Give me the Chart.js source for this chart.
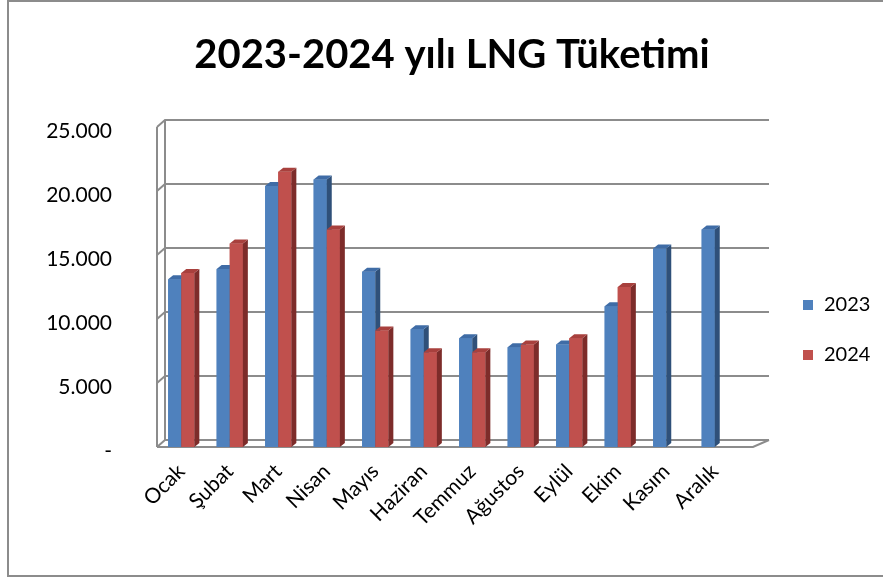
<!DOCTYPE html>
<html>
<head>
<meta charset="utf-8">
<script src="https://cdn.jsdelivr.net/npm/chart.js@4.4.1/dist/chart.umd.min.js"></script>
<style>
    html, body { margin: 0; padding: 0; overflow: hidden; background: #fff; }
    #frame {
        position: absolute; left: 7px; top: 0;
        width: 886px; height: 573px;
        border: 2px solid #8c8c8c;
    }
</style>
</head>
<body>
<div id="frame"><canvas id="chart" width="886" height="573"></canvas></div>
<script>
// Monthly LNG consumption
const chartTitle = '2023-2024 yılı LNG Tüketimi';
const months = ['Ocak', 'Şubat', 'Mart', 'Nisan', 'Mayıs', 'Haziran', 'Temmuz', 'Ağustos', 'Eylül', 'Ekim', 'Kasım', 'Aralık'];
const values2023 = [13100, 13900, 20400, 20900, 13700, 9200, 8500, 7800, 8000, 11000, 15500, 17000];
const values2024 = [13600, 15900, 21500, 17000, 9100, 7400, 7400, 8000, 8500, 12500, null, null];
const seriesNames = ['2023', '2024'];
const yTicks = [0, 5000, 10000, 15000, 20000, 25000];

const FONT = 'Lato, "Open Sans", sans-serif';
const GRID = '#8c8c8c';

const faceColors = [
    { front: '#4F81BD', top: '#3F6CA6', side: '#2F5079' },
    { front: '#C0504D', top: '#A8403D', side: '#7D2C2A' }
];

function fmt(v) {
    if (v === 0) return '-';
    return String(v).replace(/\B(?=(\d{3})+(?!\d))/g, '.');
}

/**
 * Walls, floor and grid of the 3D look, plus title and legend
 */
const wallsPlugin = {
    id: 'walls',
    beforeDatasetsDraw(chart) {
        const { ctx, chartArea } = chart;
        const y = chart.scales.y;
        const dx = 8, dy = 7;
        const left = chartArea.left, right = chartArea.right;
        ctx.save();
        ctx.strokeStyle = GRID;
        ctx.lineWidth = 2;
        // back wall vertical
        ctx.beginPath();
        ctx.moveTo(left + dx, y.getPixelForValue(25000) - dy);
        ctx.lineTo(left + dx, y.getPixelForValue(0) - dy);
        ctx.moveTo(left, y.getPixelForValue(25000));
        ctx.lineTo(left, y.getPixelForValue(0));
        ctx.stroke();
        for (const v of yTicks) {
            const py = y.getPixelForValue(v);
            ctx.beginPath();
            ctx.moveTo(left, py);
            ctx.lineTo(left + dx, py - dy);
            ctx.lineTo(right + dx + 22, py - dy);
            ctx.stroke();
        }
        // floor front edge
        const py0 = y.getPixelForValue(0);
        ctx.beginPath();
        ctx.moveTo(left, py0);
        ctx.lineTo(right + 14, py0);
        ctx.lineTo(right + dx + 22, py0 - dy);
        ctx.stroke();
        ctx.restore();
    },

    // redraw bars with side and top faces, left to right
    afterDatasetsDraw(chart) {
        const { ctx } = chart;
        const dx = 5, dy = 4;
        const bars = [];
        chart.data.datasets.forEach((ds, i) => {
            const meta = chart.getDatasetMeta(i);
            meta.data.forEach((el, j) => {
                if (ds.data[j] == null) return;
                bars.push({ el, c: faceColors[i] });
            });
        });
        bars.sort((a, b) => a.el.x - b.el.x);
        ctx.save();
        for (const { el, c } of bars) {
            const l = el.x - el.width / 2, r = el.x + el.width / 2;
            const t = el.y, b = el.base;
            ctx.fillStyle = c.front;
            ctx.fillRect(l, t, r - l, b - t);
            ctx.fillStyle = c.side;
            ctx.beginPath();
            ctx.moveTo(r, t);
            ctx.lineTo(r + dx, t - dy);
            ctx.lineTo(r + dx, b - dy);
            ctx.lineTo(r, b);
            ctx.closePath();
            ctx.fill();
            ctx.fillStyle = c.top;
            ctx.beginPath();
            ctx.moveTo(l, t);
            ctx.lineTo(l + dx, t - dy);
            ctx.lineTo(r + dx, t - dy);
            ctx.lineTo(r, t);
            ctx.closePath();
            ctx.fill();
        }
        ctx.restore();
    },

    afterDraw(chart) {
        const { ctx } = chart;
        ctx.save();
        // title, centred on the whole frame
        ctx.font = 'bold 40px ' + FONT;
        ctx.fillStyle = '#000';
        ctx.textAlign = 'center';
        ctx.textBaseline = 'middle';
        ctx.fillText(chartTitle, 443, 53);
        // legend on the right
        ctx.font = '20px ' + FONT;
        ctx.textAlign = 'left';
        chart.data.datasets.forEach((ds, i) => {
            const cy = 303 + i * 50;
            ctx.fillStyle = ds.backgroundColor;
            ctx.fillRect(794, cy - 5, 10, 10);
            ctx.fillStyle = '#000';
            ctx.fillText(ds.label, 815, cy);
        });
        ctx.restore();
    }
};

new Chart(document.getElementById('chart'), {
    type: 'bar',
    data: {
        labels: months,
        datasets: [
            { label: seriesNames[0], data: values2023, backgroundColor: faceColors[0].front },
            { label: seriesNames[1], data: values2024, backgroundColor: faceColors[1].front }
        ]
    },
    options: {
        responsive: false,
        animation: false,
        layout: { padding: { left: 0, right: 156, top: 125, bottom: 0 } },
        datasets: {
            bar: { categoryPercentage: 0.54, barPercentage: 1 }
        },
        plugins: {
            legend: { display: false },
            tooltip: { enabled: false },
            title: { display: false }
        },
        scales: {
            x: {
                grid: { display: false },
                border: { display: false },
                ticks: {
                    color: '#000',
                    font: { family: FONT, size: 21 },
                    minRotation: 45,
                    maxRotation: 45,
                    padding: 4
                },
                afterFit(scale) { scale.height = 128; }
            },
            y: {
                min: 0,
                max: 25000,
                grid: { display: false, drawTicks: false },
                border: { display: false },
                afterBuildTicks(scale) {
                    scale.ticks = yTicks.map(v => ({ value: v }));
                },
                ticks: {
                    color: '#000',
                    font: { family: FONT, size: 21 },
                    padding: 45,
                    labelOffset: 4,
                    callback: (v) => fmt(v)
                },
                afterFit(scale) { scale.width = 148; }
            }
        }
    },
    plugins: [wallsPlugin]
});
</script>
</body>
</html>
